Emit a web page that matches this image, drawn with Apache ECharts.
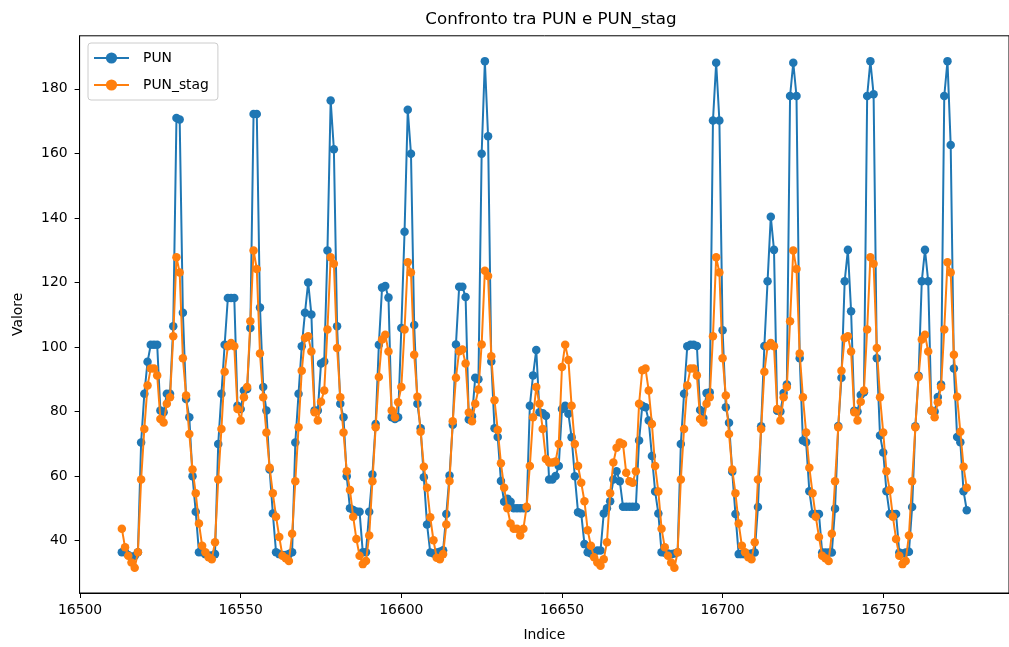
<!DOCTYPE html>
<html>
<head>
<meta charset="utf-8">
<title>Confronto tra PUN e PUN_stag</title>
<script src="https://cdn.jsdelivr.net/npm/echarts@6/dist/echarts.min.js"></script>
<style>
html, body { margin: 0; padding: 0; background: #fff; }
#chart { width: 1009px; height: 647px; }
</style>
</head>
<body>
<div id="chart"></div>
<script>
// primo indice della serie oraria
var startIndex = 16513;

// PUN, un giorno (24 ore) per riga
var pun = [
	36.4, 36.4, 35.5, 35.0, 35.2, 36.4, 70.4, 85.5, 95.4, 100.7, 100.7, 100.7, 80.3, 79.8, 85.5, 85.5, 106.4, 171.0, 170.5, 110.6, 83.9, 78.2, 59.9, 48.9,
	36.4, 36.4, 35.8, 35.4, 35.4, 35.8, 69.9, 85.5, 100.7, 115.2, 115.2, 115.2, 81.8, 80.8, 86.5, 87.0, 105.9, 172.2, 172.2, 112.2, 87.6, 80.3, 62.0, 48.4,
	36.4, 35.8, 35.5, 35.5, 35.8, 36.4, 70.4, 85.5, 100.2, 110.6, 120.0, 110.1, 80.3, 80.3, 94.9, 95.5, 129.9, 176.4, 161.3, 106.4, 82.4, 78.2, 59.9, 50.0,
	49.5, 49.0, 48.9, 36.4, 36.4, 48.9, 60.5, 76.1, 100.7, 118.4, 118.9, 115.3, 78.2, 77.7, 78.2, 105.9, 135.7, 173.5, 159.9, 106.8, 82.4, 74.8, 59.6, 45.0,
	36.3, 36.0, 36.3, 36.5, 37.0, 48.2, 60.2, 75.9, 100.8, 118.7, 118.7, 115.5, 77.5, 78.5, 90.5, 90.0, 159.9, 188.6, 165.3, 95.5, 74.8, 72.1, 58.5, 52.0,
	53.0, 52.0, 50.0, 50.0, 50.0, 50.0, 50.0, 81.8, 91.2, 99.1, 79.8, 79.5, 78.7, 58.9, 58.9, 60.0, 63.1, 80.8, 81.8, 79.3, 72.0, 59.9, 48.8, 48.3,
	38.9, 36.4, 36.0, 36.4, 36.9, 36.9, 48.4, 50.0, 52.2, 58.9, 61.5, 58.4, 50.5, 50.5, 50.5, 50.5, 50.5, 71.0, 81.8, 81.3, 77.2, 66.2, 55.2, 48.4,
	36.4, 36.2, 36.0, 35.8, 36.0, 36.4, 69.9, 85.5, 100.2, 100.7, 100.7, 100.3, 80.5, 78.0, 85.7, 86.0, 170.2, 188.1, 170.2, 105.2, 81.3, 76.5, 61.3, 48.2,
	35.8, 35.8, 35.8, 35.8, 36.0, 36.3, 50.4, 75.4, 100.3, 120.4, 140.4, 130.1, 80.2, 80.0, 85.7, 88.4, 177.8, 188.1, 177.8, 96.5, 71.0, 70.5, 55.3, 48.2,
	48.2, 48.2, 36.3, 36.3, 36.3, 36.3, 49.9, 75.5, 90.5, 120.4, 130.1, 111.1, 80.2, 80.0, 85.1, 86.0, 177.8, 188.6, 178.3, 96.5, 72.6, 67.3, 55.3, 48.2,
	48.2, 48.2, 36.3, 36.0, 36.3, 36.5, 50.4, 75.4, 91.1, 120.4, 130.1, 120.4, 80.2, 80.0, 84.5, 88.4, 177.8, 188.6, 162.6, 93.3, 72.1, 70.5, 55.3, 49.4
];

// PUN_stag, stesse righe
var punStag = [
	43.7, 37.9, 35.3, 33.2, 31.6, 36.4, 58.9, 74.6, 88.1, 93.3, 93.3, 91.2, 77.7, 76.6, 82.4, 84.4, 103.3, 127.8, 123.1, 96.5, 85.0, 73.0, 62.0, 54.7,
	45.3, 38.4, 36.4, 34.8, 34.2, 39.5, 58.9, 74.6, 92.3, 100.2, 101.2, 100.2, 80.8, 77.2, 84.4, 87.6, 108.0, 129.9, 124.2, 98.0, 84.4, 73.5, 62.6, 54.7,
	47.4, 41.1, 35.3, 34.5, 33.7, 42.1, 58.4, 75.1, 92.6, 102.8, 103.3, 98.6, 79.8, 77.2, 83.0, 86.5, 105.4, 127.8, 125.8, 99.7, 84.4, 73.5, 61.5, 55.7,
	47.4, 40.5, 35.3, 32.7, 33.7, 41.6, 58.4, 75.1, 90.7, 102.3, 103.8, 98.6, 80.3, 78.2, 82.9, 87.6, 105.4, 126.3, 123.1, 97.6, 84.6, 73.7, 62.9, 56.4,
	47.2, 40.1, 34.7, 34.2, 35.8, 45.0, 58.5, 77.0, 90.5, 98.7, 99.2, 94.9, 79.7, 77.0, 82.4, 86.8, 100.8, 123.6, 122.0, 97.1, 83.5, 74.3, 64.0, 56.4,
	50.0, 45.3, 43.7, 43.7, 41.6, 43.7, 50.5, 63.1, 78.2, 87.6, 82.4, 74.6, 65.3, 64.2, 64.2, 64.5, 69.9, 93.8, 100.7, 96.0, 81.8, 69.9, 63.1, 57.9,
	52.2, 43.2, 38.4, 34.8, 33.2, 32.2, 34.2, 39.5, 54.7, 64.2, 68.8, 70.4, 69.9, 61.0, 58.4, 57.9, 61.5, 82.4, 92.8, 93.3, 86.5, 76.1, 63.1, 55.2,
	43.7, 37.9, 35.3, 33.2, 31.6, 36.4, 58.9, 74.6, 88.1, 93.3, 93.3, 91.2, 77.7, 76.6, 82.4, 84.4, 103.3, 127.8, 123.1, 96.5, 85.0, 73.0, 62.0, 54.7,
	45.3, 38.4, 36.4, 34.8, 34.2, 39.5, 58.9, 74.6, 92.3, 100.2, 101.2, 100.2, 80.8, 77.2, 84.4, 87.6, 108.0, 129.9, 124.2, 98.0, 84.4, 73.5, 62.6, 54.7,
	47.4, 41.1, 35.3, 34.5, 33.7, 42.1, 58.4, 75.1, 92.6, 102.8, 103.3, 98.6, 79.8, 77.2, 83.0, 86.5, 105.4, 127.8, 125.8, 99.7, 84.4, 73.5, 61.5, 55.7,
	47.4, 40.5, 35.3, 32.7, 33.7, 41.6, 58.4, 75.1, 90.7, 102.3, 103.8, 98.6, 80.3, 78.2, 82.9, 87.6, 105.4, 126.3, 123.1, 97.6, 84.6, 73.7, 62.9, 56.4
];

var xTicks = [16500, 16550, 16600, 16650, 16700, 16750];
var yTicks = [40, 60, 80, 100, 120, 140, 160, 180];

function toPairs(arr) {
	var out = [];
	for (var i = 0; i < arr.length; i++) {
		out.push([startIndex + i, arr[i]]);
	}
	return out;
}

var font = 'DejaVu Sans';
var myChart = echarts.init(document.getElementById('chart'), null, { renderer: 'canvas' });

var option = {
	animation: false,
	backgroundColor: '#ffffff',
	title: {
		text: 'Confronto tra PUN e PUN_stag',
		left: 546,
		textAlign: 'center',
		top: 6,
		textStyle: { fontFamily: font, fontSize: 16.7, fontWeight: 'normal', color: '#000' }
	},
	legend: {
		data: ['PUN', 'PUN_stag'],
		orient: 'vertical',
		left: 88,
		top: 43,
		padding: [8, 9, 8, 5],
		itemWidth: 35,
		itemHeight: 14,
		itemGap: 13,
		backgroundColor: 'rgba(255,255,255,0.8)',
		borderColor: '#cccccc',
		borderWidth: 1,
		borderRadius: 3,
		textStyle: { fontFamily: font, fontSize: 13.9, color: '#000', padding: [0, 0, 0, 9] }
	},
	grid: {
		left: 79.6,
		top: 35.8,
		width: 934,
		height: 558.8,
		show: true,
		borderColor: '#000',
		borderWidth: 1
	},
	xAxis: {
		type: 'value',
		min: 16499.85,
		max: 16789.15,
		name: 'Indice',
		nameLocation: 'middle',
		nameGap: 35,
		nameTextStyle: { fontFamily: font, fontSize: 13.9, color: '#000' },
		splitLine: { show: false },
		axisLine: { show: true, lineStyle: { color: '#000', width: 1 } },
		axisTick: { show: true, inside: false, length: 5, lineStyle: { color: '#000' }, customValues: xTicks },
		axisLabel: {
			fontFamily: font, fontSize: 13.9, color: '#000', margin: 10, customValues: xTicks,
			formatter: function(v) { return String(Math.round(v)); }
		}
	},
	yAxis: {
		type: 'value',
		min: 23.75,
		max: 196.45,
		name: 'Valore',
		nameLocation: 'middle',
		nameGap: 54,
		nameTextStyle: { fontFamily: font, fontSize: 13.9, color: '#000' },
		splitLine: { show: false },
		axisLine: { show: true, lineStyle: { color: '#000', width: 1 } },
		axisTick: { show: true, inside: false, length: 5, lineStyle: { color: '#000' }, customValues: yTicks },
		axisLabel: { fontFamily: font, fontSize: 13.9, color: '#000', margin: 12, customValues: yTicks }
	},
	series: [{
			name: 'PUN',
			type: 'line',
			z: 2,
			data: toPairs(pun),
			symbol: 'circle',
			symbolSize: 8.5,
			showAllSymbol: true,
			itemStyle: { color: '#1f77b4' },
			lineStyle: { color: '#1f77b4', width: 2 }
		},
		{
			name: 'PUN_stag',
			type: 'line',
			z: 3,
			data: toPairs(punStag),
			symbol: 'circle',
			symbolSize: 8.5,
			showAllSymbol: true,
			itemStyle: { color: '#ff7f0e' },
			lineStyle: { color: '#ff7f0e', width: 2 }
		}
	]
};

myChart.setOption(option);
</script>
</body>
</html>
